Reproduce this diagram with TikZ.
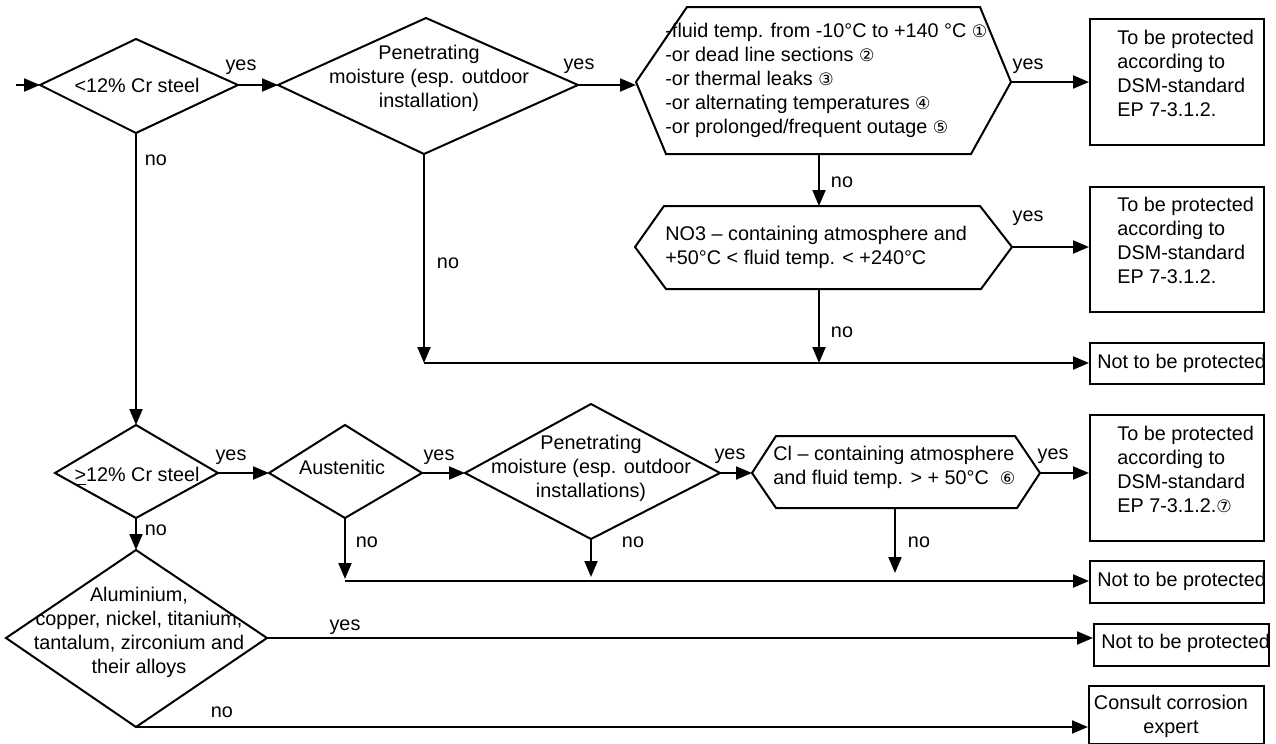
\documentclass[tikz,border=0pt]{standalone}
\usepackage{fontspec}
\setmainfont{Liberation Sans}
\newfontfamily\circfont{DejaVu Sans}
\usetikzlibrary{arrows.meta}
\newcommand{\cdg}[1]{{\circfont\fontsize{8.6pt}{9pt}\selectfont #1}}
\begin{document}
\begin{tikzpicture}[x=0.5pt,y=-0.5pt,
  every node/.style={inner sep=0pt, font=\fontsize{9.9pt}{12pt}\selectfont},
  shp/.style={draw=black, line width=1pt, line join=miter},
  arr/.style={-{Triangle[length=8pt,width=6.5pt]}, line width=1pt},
  box/.style={draw=black, line width=1pt, anchor=north west, minimum width=87pt},
  txtl/.style={align=left, anchor=west},
  txtc/.style={align=center, anchor=center}
]
\useasboundingbox (0,0) rectangle (1276,744);

% ---------- coordinates of shapes ----------
\coordinate (start) at (16,85);
% diamond 1
\coordinate (d1w) at (40,85);  \coordinate (d1n) at (136,39);
\coordinate (d1e) at (238,85); \coordinate (d1s) at (136,133);
% diamond 2
\coordinate (d2w) at (278,85); \coordinate (d2n) at (426,18);
\coordinate (d2e) at (578,85); \coordinate (d2s) at (424,154);
% hexagon 1
\coordinate (h1w) at (636,82); \coordinate (h1e) at (1011,82);
\coordinate (h1s) at (819,154);
% hexagon 2
\coordinate (h2w) at (635,247); \coordinate (h2e) at (1012,247);
\coordinate (h2n) at (819,206); \coordinate (h2s) at (819,289);
% diamond 3
\coordinate (d3w) at (55,473);  \coordinate (d3n) at (136,425);
\coordinate (d3e) at (218,473); \coordinate (d3s) at (136,518);
% diamond 4
\coordinate (d4w) at (269,473); \coordinate (d4n) at (345,425);
\coordinate (d4e) at (422,473); \coordinate (d4s) at (345,518);
% diamond 5
\coordinate (d5w) at (465,473); \coordinate (d5n) at (591,404);
\coordinate (d5e) at (720,473); \coordinate (d5s) at (591,539);
% hexagon 3
\coordinate (h3w) at (752,473); \coordinate (h3e) at (1040,473);
\coordinate (h3s) at (895,508);
% diamond 6
\coordinate (d6w) at (6,638);   \coordinate (d6n) at (136,550);
\coordinate (d6e) at (267,638); \coordinate (d6s) at (136,727);
% junctions
\coordinate (j1) at (424,363);
\coordinate (j2) at (819,363);
\coordinate (j3) at (345,581);
\coordinate (j4) at (591,581);
\coordinate (j5) at (895,581);

% ---------- shapes ----------
\draw[shp] (d1w) -- (d1n) -- (d1e) -- (d1s) -- cycle;
\draw[shp] (d2w) -- (d2n) -- (d2e) -- (d2s) -- cycle;
\draw[shp] (h1w) -- (687,7) -- (980,7) -- (h1e) -- (971,154) -- (666,154) -- cycle;
\draw[shp] (h2w) -- (664,206) -- (980,206) -- (h2e) -- (981,289) -- (666,289) -- cycle;
\draw[shp] (d3w) -- (d3n) -- (d3e) -- (d3s) -- cycle;
\draw[shp] (d4w) -- (d4n) -- (d4e) -- (d4s) -- cycle;
\draw[shp] (d5w) -- (d5n) -- (d5e) -- (d5s) -- cycle;
\draw[shp] (h3w) -- (776,436) -- (1015,436) -- (h3e) -- (1017,508) -- (776,508) -- cycle;
\draw[shp] (d6w) -- (d6n) -- (d6e) -- (d6s) -- cycle;

\node[box, minimum height=63pt]   (b1) at (1089,18)  {};
\node[box, minimum height=62.5pt] (b2) at (1089,186) {};
\node[box, minimum height=20.5pt] (b3) at (1089,342) {};
\node[box, minimum height=63pt]   (b4) at (1089,414) {};
\node[box, minimum height=21pt]   (b5) at (1089,560) {};
\node[box, minimum height=21pt, minimum width=87.5pt] (b6) at (1093,623) {};
\node[box, minimum height=29pt, minimum width=87.5pt] (b7) at (1088,685) {};

% ---------- texts ----------
\node[txtc] (t1) at (137,85) {<12\% Cr steel};
\node[txtc] (t2) at (429,78) {Penetrating\\moisture (esp. outdoor\\installation)};
\node[txtl] (t3) at (665,80) {-fluid temp. from -10°C to +140 °C \cdg{①}\\-or dead line sections \cdg{②}\\-or thermal leaks \cdg{③}\\-or alternating temperatures \cdg{④}\\-or prolonged/frequent outage \cdg{⑤}};
\node[txtl] (t4) at (665,247) {NO3 -- containing atmosphere and\\+50°C < fluid temp. < +240°C};
\node[txtc] (t5) at (137,476) {\underline{>}12\% Cr steel};
\node[txtc] (t6) at (342,467) {Austenitic};
\node[txtc] (t7) at (591,468) {Penetrating\\moisture (esp. outdoor\\installations)};
\node[txtl] (t8) at (773,467) {Cl -- containing atmosphere\\and fluid temp. > + 50°C\ \ \cdg{⑥}};
\node[txtc] (t9) at (139,632) {Aluminium,\\copper, nickel, titanium,\\tantalum, zirconium and\\their alloys};

\node[txtl] (tb1) at (1117,73)  {To be protected\\according to\\DSM-standard\\EP 7-3.1.2.};
\node[txtl] (tb2) at (1117,240) {To be protected\\according to\\DSM-standard\\EP 7-3.1.2.};
\node[txtl] (tb3) at (1097,363) {Not to be protected};
\node[txtl] (tb4) at (1117,469) {To be protected\\according to\\DSM-standard\\EP 7-3.1.2.\cdg{⑦}};
\node[txtl] (tb5) at (1097,581) {Not to be protected};
\node[txtl] (tb6) at (1101,643) {Not to be protected};
\node[txtc] (tb7) at (1171,716) {Consult corrosion\\expert};

% ---------- connectors ----------
\draw[arr] (start) -- (d1w);
\draw[arr] (d1e) -- (d2w);
\draw[arr] (d2e) -- (d2e -| h1w);
\draw[arr] (h1e) -- (h1e -| b1.west);
\draw[arr] (h1s) -- (h2n);
\draw[arr] (h2e) -- (h2e -| b2.west);
\draw[arr] (h2s) -- (j2);
\draw[arr] (d2s) -- (j1);
\draw[arr] (j1) -- (j1 -| b3.west);
\draw[arr] (d1s) -- (d3n);
\draw[arr] (d3e) -- (d4w);
\draw[arr] (d4e) -- (d5w);
\draw[arr] (d5e) -- (h3w);
\draw[arr] (h3e) -- (h3e -| b4.west);
\draw[arr] (d4s) -- ([yshift=1pt]j3);
\draw[arr] (d5s) -- ([yshift=2pt]j4);
\draw[arr] (h3s) -- ([yshift=4pt]j5);
\draw[arr] (j3) -- (j3 -| b5.west);
\draw[arr] (d3s) -- (d6n);
\draw[arr] (d6e) -- (d6e -| b6.west);
\draw[arr] (d6s) -- (d6s -| b7.west);

% ---------- labels ----------
\node (y1) at (241,67) {yes};
\node (y2) at (579,66) {yes};
\node (y3) at (1028,66) {yes};
\node (y4) at (1028,218) {yes};
\node (y5) at (231,457) {yes};
\node (y6) at (439,457) {yes};
\node (y7) at (730,456) {yes};
\node (y8) at (1053,456) {yes};
\node (y9) at (345,627) {yes};
\node (n1) at (156,160) {no};
\node (n2) at (448,263) {no};
\node (n3) at (842,182) {no};
\node (n4) at (842,332) {no};
\node (n5) at (156,530) {no};
\node (n6) at (367,542) {no};
\node (n7) at (633,542) {no};
\node (n8) at (919,542) {no};
\node (n9) at (222,712) {no};
\end{tikzpicture}
\end{document}
